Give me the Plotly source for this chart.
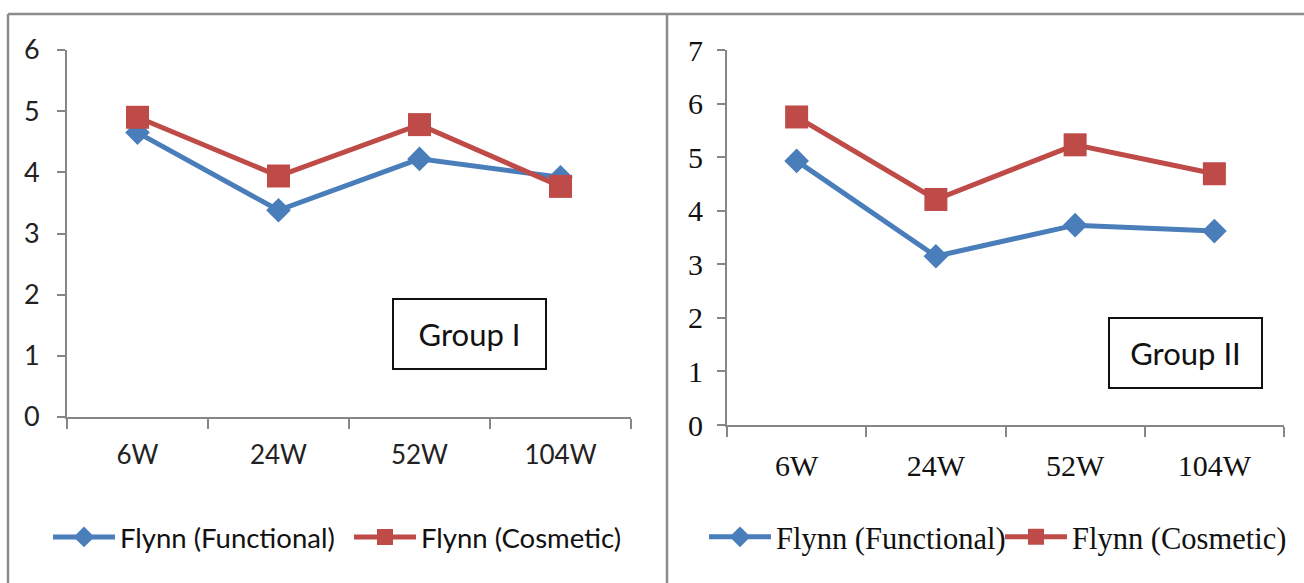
import plotly.graph_objects as go

categories = ["6W", "24W", "52W", "104W"]
g1_functional = [4.65, 3.38, 4.22, 3.92]
g1_cosmetic = [4.90, 3.94, 4.78, 3.77]
g2_functional = [4.93, 3.15, 3.73, 3.62]
g2_cosmetic = [5.75, 4.21, 5.23, 4.69]
g1_yticks = [0, 1, 2, 3, 4, 5, 6]
g2_yticks = [0, 1, 2, 3, 4, 5, 6, 7]

W, H = 1304, 583
BLUE = "#4A7EBB"
RED = "#BE4B48"
AXC = "#868686"
SANS = "Lato, 'Open Sans', sans-serif"
SERIF = "'Liberation Serif', 'DejaVu Serif', serif"

def px(x):
    return x / W

def py(y):
    return 1 - y / H

fig = go.Figure()

fig.add_trace(go.Scatter(x=categories, y=g1_functional, name="Flynn (Functional)",
                         mode="lines+markers", line=dict(color=BLUE, width=5),
                         marker=dict(symbol="diamond", size=19, color=BLUE),
                         xaxis="x", yaxis="y", legend="legend"))
fig.add_trace(go.Scatter(x=categories, y=g1_cosmetic, name="Flynn (Cosmetic)",
                         mode="lines+markers", line=dict(color=RED, width=5),
                         marker=dict(symbol="square", size=23, color=RED),
                         xaxis="x", yaxis="y", legend="legend"))
fig.add_trace(go.Scatter(x=categories, y=g2_functional, name="Flynn (Functional)",
                         mode="lines+markers", line=dict(color=BLUE, width=5),
                         marker=dict(symbol="diamond", size=19, color=BLUE),
                         xaxis="x2", yaxis="y2", legend="legend2"))
fig.add_trace(go.Scatter(x=categories, y=g2_cosmetic, name="Flynn (Cosmetic)",
                         mode="lines+markers", line=dict(color=RED, width=5),
                         marker=dict(symbol="square", size=23, color=RED),
                         xaxis="x2", yaxis="y2", legend="legend2"))

common_x = dict(type="category", range=[-0.5, 3.5], tickson="boundaries",
                ticks="outside", ticklen=10, tickwidth=2, tickcolor=AXC,
                showline=True, linecolor=AXC, linewidth=2, showgrid=False,
                zeroline=False, fixedrange=True)
common_y = dict(ticks="outside", ticklen=8, tickwidth=2, tickcolor=AXC,
                showline=True, linecolor=AXC, linewidth=2, showgrid=False,
                zeroline=False, fixedrange=True)

fig.update_layout(
    width=W, height=H,
    margin=dict(l=0, r=0, t=0, b=0, autoexpand=False),
    paper_bgcolor="white", plot_bgcolor="white",
    xaxis=dict(domain=[px(67), px(631)], anchor="y",
               tickfont=dict(family=SANS, size=26, color="#222"),
               ticklabelstandoff=14, **common_x),
    yaxis=dict(domain=[py(417), py(50)], anchor="x", range=[0, 6],
               tickvals=g1_yticks, tickfont=dict(family=SANS, size=27, color="#222"),
               ticklabelstandoff=12, **common_y),
    xaxis2=dict(domain=[px(727), px(1284)], anchor="y2",
                tickfont=dict(family=SERIF, size=30, color="#111"),
                ticklabelstandoff=13, **common_x),
    yaxis2=dict(domain=[py(425), py(50)], anchor="x2", range=[0, 7],
                tickvals=g2_yticks, tickfont=dict(family=SERIF, size=30, color="#111"),
                ticklabelstandoff=8, **common_y),
    legend=dict(orientation="h", x=px(48), y=py(537), xanchor="left", yanchor="middle",
                font=dict(family=SANS, size=27.5, color="#111"), itemwidth=62,
                entrywidth=224, entrywidthmode="pixels", bgcolor="rgba(0,0,0,0)"),
    legend2=dict(orientation="h", x=px(704), y=py(537), xanchor="left", yanchor="middle",
                 font=dict(family=SERIF, size=30.5, color="#111"), itemwidth=62,
                 entrywidth=219, entrywidthmode="pixels", bgcolor="rgba(0,0,0,0)"),
    showlegend=True,
)

# panel borders
for shp in [
    dict(x0=px(8), x1=1, y0=py(14), y1=py(14)),
    dict(x0=px(8), x1=px(8), y0=py(14), y1=0),
    dict(x0=px(667), x1=px(667), y0=py(14), y1=0),
]:
    fig.add_shape(type="line", xref="paper", yref="paper",
                  line=dict(color="#8C8C8C", width=2.5), **shp)

fig.add_annotation(x=px(470), y=py(334), xref="paper", yref="paper",
                   xanchor="center", yanchor="middle",
                   text="Group I", showarrow=False,
                   font=dict(family=SANS, size=31, color="#111"),
                   width=151, height=68, bordercolor="#111", borderwidth=2,
                   borderpad=0, bgcolor="white")
fig.add_annotation(x=px(1185), y=py(353), xref="paper", yref="paper",
                   xanchor="center", yanchor="middle",
                   text="Group II", showarrow=False,
                   font=dict(family=SANS, size=31, color="#111"),
                   width=151, height=68, bordercolor="#111", borderwidth=2,
                   borderpad=0, bgcolor="white")

fig.write_html("out.html", config={"displayModeBar": False},
               post_script="document.body.style.margin='0';document.body.style.overflow='hidden';")
